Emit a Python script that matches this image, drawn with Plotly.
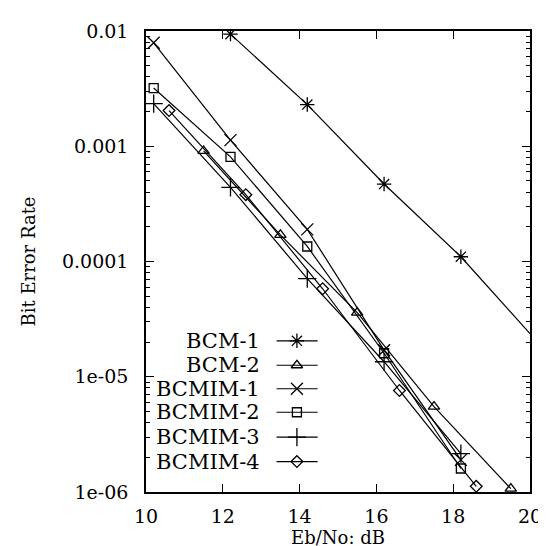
import plotly.graph_objects as go

# ---- data ----
series_names = ["BCM-1", "BCM-2", "BCMIM-1", "BCMIM-2", "BCMIM-3", "BCMIM-4"]
bcm1_x = [12.2, 14.2, 16.2, 18.2, 20.2]
bcm1_y = [0.0094, 0.0023, 0.00047, 0.00011, 2.0e-5]
bcm2_x = [11.5, 13.5, 15.5, 17.5, 19.5]
bcm2_y = [0.00091, 0.00017, 3.6e-5, 5.5e-6, 1.07e-6]
bcmim1_x = [10.2, 12.2, 14.2, 16.2, 18.2]
bcmim1_y = [0.0079, 0.00113, 0.00019, 1.7e-5, 1.9e-6]
bcmim2_x = [10.2, 12.2, 14.2, 16.2, 18.2]
bcmim2_y = [0.0032, 0.00081, 0.000135, 1.6e-5, 1.6e-6]
bcmim3_x = [10.2, 12.2, 14.2, 16.2, 18.2]
bcmim3_y = [0.00234, 0.00044, 7.1e-5, 1.35e-5, 2.15e-6]
bcmim4_x = [10.6, 12.6, 14.6, 16.6, 18.6]
bcmim4_y = [0.00204, 0.00038, 5.8e-5, 7.6e-6, 1.12e-6]

x_ticks = [10, 12, 14, 16, 18, 20]
y_ticks = [1e-2, 1e-3, 1e-4, 1e-5, 1e-6]
y_tick_labels = ["0.01", "0.001", "0.0001", "1e-05", "1e-06"]
y_minor = [m * 10.0 ** e for e in range(-6, -2) for m in range(2, 10)]

xs = [bcm1_x, bcm2_x, bcmim1_x, bcmim2_x, bcmim3_x, bcmim4_x]
ys = [bcm1_y, bcm2_y, bcmim1_y, bcmim2_y, bcmim3_y, bcmim4_y]
symbols = ["asterisk-open", "triangle-up-open", "x-thin-open", "square-open",
           "cross-thin-open", "diamond-open"]
sizes = [12, 10, 12, 9, 13, 9]

FONT = "DejaVu Serif"
fig = go.Figure()

for name, x, y, sym, sz in zip(series_names, xs, ys, symbols, sizes):
    fig.add_trace(go.Scatter(
        x=x, y=y, mode="lines+markers", name=name, showlegend=False,
        line=dict(color="black", width=1.2),
        marker=dict(symbol=sym, size=sz, color="black",
                    line=dict(color="black", width=1.3)),
        cliponaxis=True,
    ))

# ---- hand-made legend (text right, sample line to the right) ----
leg_rows = [0.328, 0.275, 0.224, 0.173, 0.119, 0.066]
lx0, lx1, lxm, ltx = 0.340, 0.447, 0.393, 0.302
for name, sym, sz, ry in zip(series_names, symbols, sizes, leg_rows):
    fig.add_trace(go.Scatter(
        x=[lx0, lx1], y=[ry, ry], mode="lines", xaxis="x2", yaxis="y2",
        line=dict(color="black", width=1.2), showlegend=False, hoverinfo="skip"))
    fig.add_trace(go.Scatter(
        x=[lxm], y=[ry], mode="markers", xaxis="x2", yaxis="y2",
        marker=dict(symbol=sym, size=sz, color="black",
                    line=dict(color="black", width=1.3)),
        showlegend=False, hoverinfo="skip"))
    fig.add_annotation(x=ltx, y=ry, xref="paper", yref="paper", text=name,
                       showarrow=False, xanchor="right", yanchor="middle",
                       font=dict(family=FONT, size=21, color="black"))

axis_common = dict(showline=True, linecolor="black", linewidth=1.5, mirror="ticks",
                   ticks="inside", tickcolor="black", tickwidth=1.2, ticklen=8,
                   showgrid=False, zeroline=False,
                   tickfont=dict(family=FONT, size=19, color="black"))

fig.update_layout(
    width=546, height=546,
    margin=dict(l=138, r=14, t=15, b=62),
    paper_bgcolor="white", plot_bgcolor="white",
    xaxis=dict(range=[10, 20], tickmode="array", tickvals=x_ticks,
               ticklabelstandoff=6,
               title=dict(text="Eb/No: dB", standoff=2,
                          font=dict(family=FONT, size=18, color="black")),
               **axis_common),
    yaxis=dict(type="log", range=[-6, -2], tickmode="array", tickvals=y_ticks,
               ticktext=y_tick_labels, ticklabelstandoff=12,
               minor=dict(tickmode="array", tickvals=y_minor, ticks="inside",
                          ticklen=4, tickcolor="black", tickwidth=1.0),
               title=dict(text="Bit Error Rate", standoff=22,
                          font=dict(family=FONT, size=18, color="black")),
               **axis_common),
    xaxis2=dict(range=[0, 1], overlaying="x", visible=False, fixedrange=True),
    yaxis2=dict(range=[0, 1], overlaying="y", visible=False, fixedrange=True),
    showlegend=False,
)

fig.write_html("out.html")
